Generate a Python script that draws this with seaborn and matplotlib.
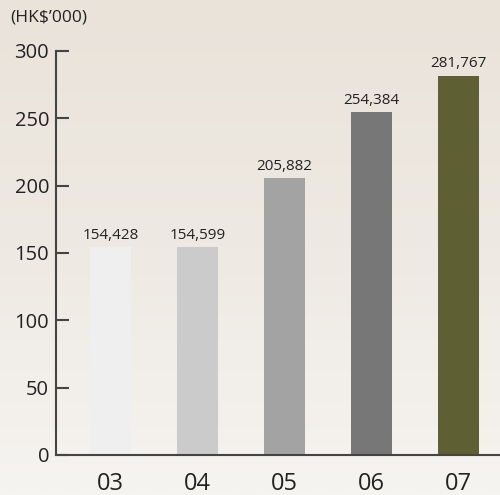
import matplotlib
matplotlib.use('Agg')
import matplotlib.pyplot as plt
import numpy as np
import pandas as pd
import seaborn as sns

years = ['03', '04', '05', '06', '07']
amounts = [154428, 154599, 205882, 254384, 281767]
bar_colors = ['#efefef', '#cbcbcb', '#a3a3a3', '#777777', '#5e5f33']
y_ticks = [0, 50, 100, 150, 200, 250, 300]

sns.set_style('white')
plt.rcParams['font.family'] = ['Open Sans', 'DejaVu Sans']

df = pd.DataFrame({'year': years, 'value': [a / 1000 for a in amounts]})

fig = plt.figure(figsize=(5, 4.95), dpi=100)

# soft beige backdrop, darker at the top
bg = fig.add_axes([0, 0, 1, 1], zorder=-1)
grad = np.linspace(0, 1, 256).reshape(-1, 1)
cmap = matplotlib.colors.LinearSegmentedColormap.from_list('bg', ['#e9e3da', '#eee9e2', '#f6f4f1'])
bg.imshow(grad, aspect='auto', cmap=cmap, extent=[0, 1, 0, 1], origin='upper')
bg.axis('off')

ax = fig.add_axes([0.112, 0.081, 0.888, 0.816])
ax.patch.set_alpha(0)
sns.barplot(data=df, x='year', y='value', hue='year', palette=bar_colors,
            width=0.47, legend=False, saturation=1, linewidth=0, ax=ax)

ax.set_ylim(0, 300)
ax.set_xlim(-0.626, 4.476)
ax.set_yticks(y_ticks)
ax.set_xlabel('')
ax.set_ylabel('')
for s in ['top', 'right']:
    ax.spines[s].set_visible(False)
for s in ['left', 'bottom']:
    ax.spines[s].set_color('#444444')
    ax.spines[s].set_linewidth(1.5)
ax.tick_params(axis='y', direction='in', length=9, width=1.5, color='#444444',
               labelsize=14.5, labelcolor='#222222', pad=5, left=True)
ax.tick_params(axis='x', length=0, labelsize=17, labelcolor='#222222', pad=12)

for i, v in enumerate(amounts):
    ax.text(i, v / 1000 + 3, f'{v:,}', ha='center', va='bottom',
            fontsize=11, color='#222222', clip_on=False)

fig.text(0.02, 0.965, '(HK$\u2019000)', fontsize=12.5, color='#222222', va='center')

fig.savefig('out.png', dpi=100)
